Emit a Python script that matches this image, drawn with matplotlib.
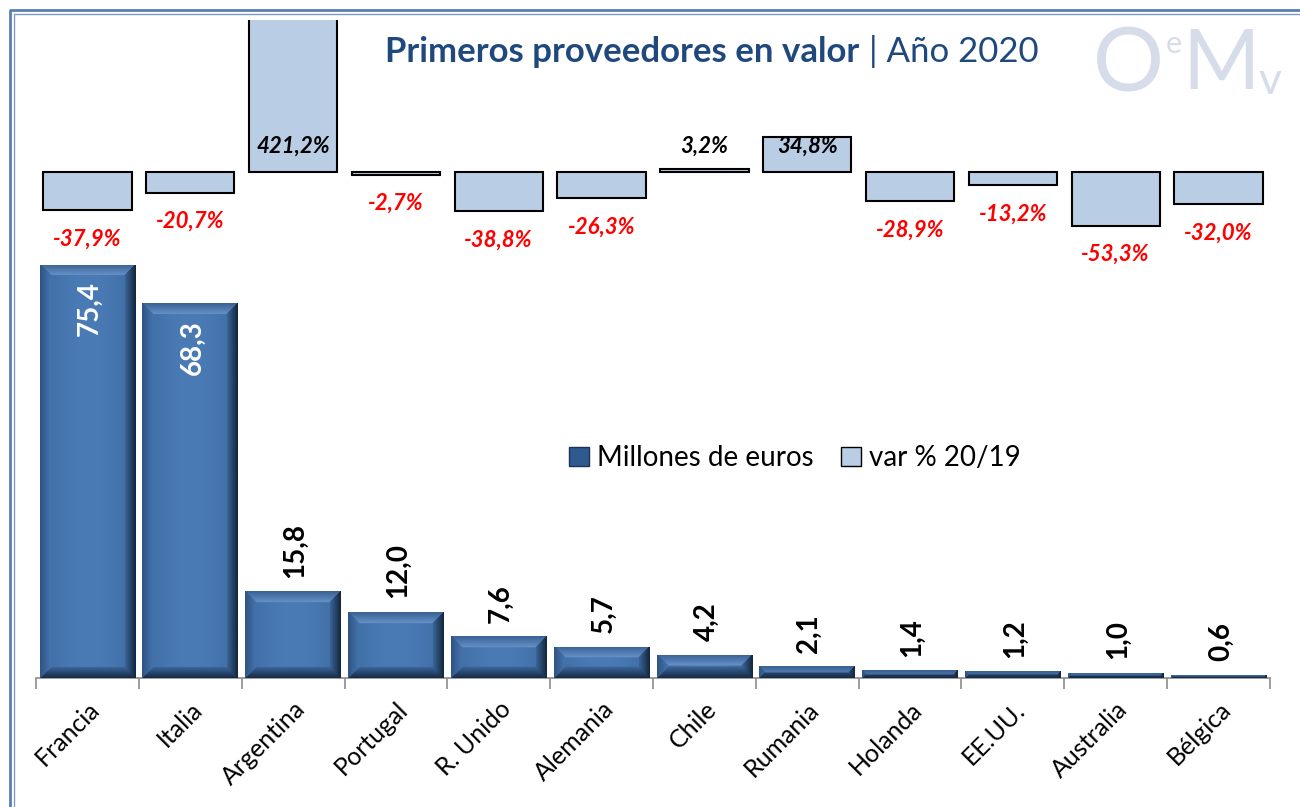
import numpy as np
import matplotlib
matplotlib.use("Agg")
import matplotlib.pyplot as plt
from matplotlib.patches import Patch
from matplotlib.lines import Line2D

plt.rcParams['font.family'] = ['Lato', 'DejaVu Sans']

# data
paises = ['Francia', 'Italia', 'Argentina', 'Portugal', 'R. Unido', 'Alemania',
          'Chile', 'Rumania', 'Holanda', 'EE.UU.', 'Australia', 'Bélgica']
millones = [75.4, 68.3, 15.8, 12.0, 7.6, 5.7, 4.2, 2.1, 1.4, 1.2, 1.0, 0.6]
var_pct = [-37.9, -20.7, 421.2, -2.7, -38.8, -26.3, 3.2, 34.8, -28.9, -13.2, -53.3, -32.0]

W, H = 1300, 807
fig = plt.figure(figsize=(W / 100, H / 100), dpi=100)
ax = fig.add_axes([36 / W, 1 - 678 / H, (1270 - 36) / W, (678 - 20) / H])

x = np.arange(len(paises))


def hexc(h):
    return np.array([int(h[i:i + 2], 16) for i in (1, 3, 5)]) / 255


def bevel(wpx, hpx, b=11):
    # rough imitation of the bevelled excel bar
    wpx, hpx = max(int(wpx), 2), max(int(hpx), 2)
    jj, ii = np.meshgrid(np.arange(wpx), np.arange(hpx))
    t = np.abs(jj - wpx / 2) / (wpx / 2)
    c0, c1 = hexc('#4a7bb5'), hexc('#3d699f')
    img = c0 + (c1 - c0) * (t[..., None] ** 2)
    d = np.stack([jj, wpx - 1 - jj, ii, hpx - 1 - ii])
    near = d.argmin(0)
    m = d.min(0)
    s = np.clip(m / b, 0, 1)[..., None]
    ramps = [('#2f5585', '#4676b0'),   # left
             ('#14283f', '#3d699f'),   # right
             ('#3a6294', '#6893cb'),   # top
             ('#182c48', '#3d699f')]   # bottom
    for k, (a, z) in enumerate(ramps):
        col = hexc(a) + (hexc(z) - hexc(a)) * s
        sel = (m < b) & (near == k)
        img[sel] = col[sel]
    return img


bars = ax.bar(x, millones, width=0.93, color='#3a67a0', zorder=2)
px_per_unit = (678 - 20) / 120
for b in bars:
    x0, w, h = b.get_x(), b.get_width(), b.get_height()
    im = ax.imshow(bevel(w * 102.8, h * px_per_unit), extent=[x0, x0 + w, 0, h],
                   aspect='auto', zorder=3, interpolation='bilinear')
    im.set_clip_path(b)

for xi, v in zip(x, millones):
    lab = f"{v:.1f}".replace('.', ',')
    if v > 50:
        ax.text(xi + 0.02, v - 3, lab, rotation=90, ha='center', va='top',
                color='white', fontsize=20, fontweight='bold', zorder=5)
    else:
        ax.text(xi + 0.02, v + 2.5, lab, rotation=90, ha='center', va='bottom',
                color='black', fontsize=20, fontweight='bold', zorder=5)

ax.set_ylim(0, 120)
ax.set_xlim(-0.5, len(paises) - 0.5)

# secondary axis: variation
ax2 = ax.twinx()
ax2.set_ylim(-500, 150)
ax2.bar(x, var_pct, width=0.86, color='#b9cde5', edgecolor='black', linewidth=1.5)
for xi, v in zip(x, var_pct):
    lab = f"{v:.1f}%".replace('.', ',')
    if v < 0:
        ax2.text(xi, v - 28.5, lab, ha='center', va='center', color='#ff0000',
                 fontsize=16, fontweight='bold', fontstyle='italic')
    else:
        ax2.text(xi, 25, lab, ha='center', va='center', color='black',
                 fontsize=16, fontweight='bold', fontstyle='italic')

for a in (ax, ax2):
    for s in ['top', 'left', 'right']:
        a.spines[s].set_visible(False)
    a.set_yticks([])
ax2.spines['bottom'].set_visible(False)
ax.spines['bottom'].set_color('#8c8c8c')
ax.spines['bottom'].set_linewidth(1.2)

ax.set_xticks(np.arange(-0.5, len(paises), 1))
ax.set_xticklabels([])
ax.tick_params(axis='x', which='major', length=8, color='#8c8c8c', width=1.2)
ax.set_xticks(x, minor=True)
ax.set_xticklabels(paises, minor=True, rotation=45, ha='right',
                   rotation_mode='anchor', fontsize=18)
ax.tick_params(axis='x', which='minor', length=0, pad=14)

# title
t1 = fig.text(385 / W, 1 - 62 / H, 'Primeros proveedores en valor', fontsize=25,
              fontweight='bold', color='#1f497d', va='baseline')
fig.canvas.draw()
ext = t1.get_window_extent()
fig.text(ext.x1 / W + 10 / W, 1 - 62 / H, '| Año 2020', fontsize=25,
         color='#1f497d', va='baseline')

# logo
logo = '#d6dcea'
fig.text(1128 / W, 1 - 66 / H, 'O', fontsize=64, color=logo, ha='center',
         va='center')
fig.text(1174 / W, 1 - 44 / H, 'e', fontsize=22, color=logo, ha='center',
         va='center')
fig.text(1221 / W, 1 - 66 / H, 'M', fontsize=60, color=logo, ha='center',
         va='center')
fig.text(1270 / W, 1 - 82 / H, 'v', fontsize=32, color=logo, ha='center',
         va='center')

# legend
handles = [Patch(facecolor='#2f5a8f', edgecolor='#1c3355', linewidth=1),
           Patch(facecolor='#b9cde5', edgecolor='black', linewidth=1)]
fig.legend(handles, ['Millones de euros', 'var % 20/19'], loc='center',
           bbox_to_anchor=(795 / W, 1 - 458 / H), ncol=2, frameon=False,
           fontsize=20, handlelength=0.7, handleheight=0.7, handletextpad=0.3,
           columnspacing=1.0)

# double frame
for off, lw, c in [(10, 2.0, '#5b7fb0'), (14, 1.0, '#7f9cc6')]:
    fig.add_artist(Line2D([off / W, off / W, 1.0], [0.0, 1 - off / H, 1 - off / H],
                          transform=fig.transFigure, color=c, linewidth=lw))

fig.savefig('out.png', dpi=100)
